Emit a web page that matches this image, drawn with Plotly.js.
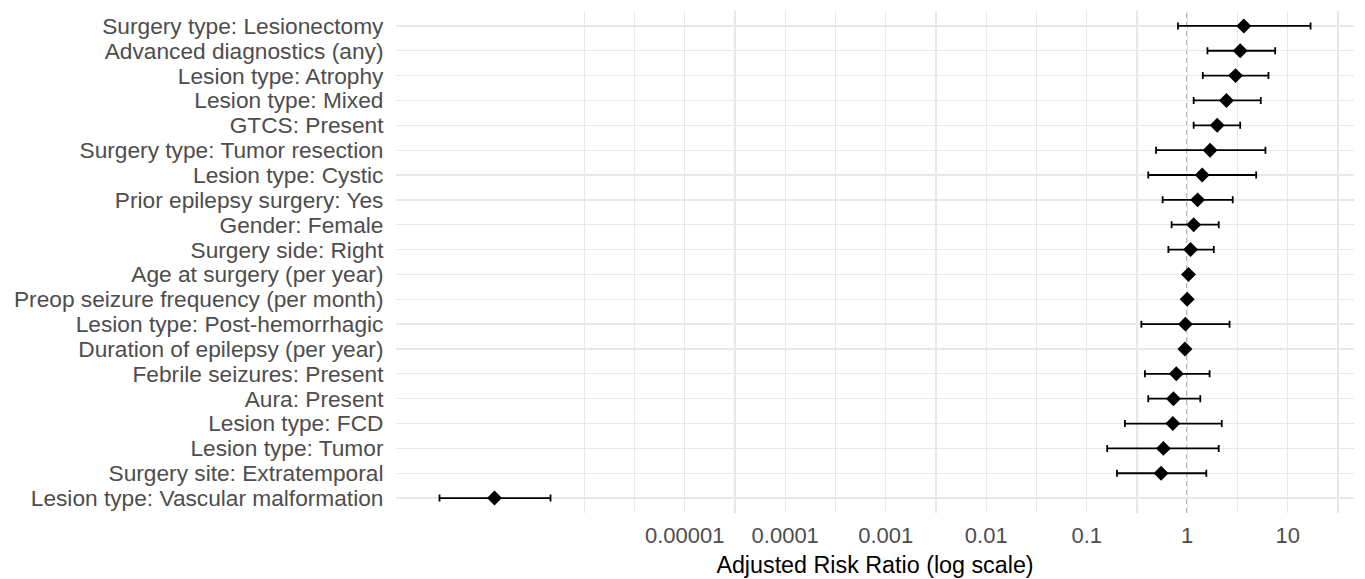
<!DOCTYPE html>
<html>
<head>
<meta charset="utf-8">
<script src="https://cdn.plot.ly/plotly-3.0.1.min.js"></script>
<style>
  html, body { margin: 0; padding: 0; background: #ffffff; }
  #chart { width: 1365px; height: 579px; }
</style>
</head>
<body>
<div id="chart"></div>
<script>
// ---- Data ----
const predictors = [
  "Surgery type: Lesionectomy",
  "Advanced diagnostics (any)",
  "Lesion type: Atrophy",
  "Lesion type: Mixed",
  "GTCS: Present",
  "Surgery type: Tumor resection",
  "Lesion type: Cystic",
  "Prior epilepsy surgery: Yes",
  "Gender: Female",
  "Surgery side: Right",
  "Age at surgery (per year)",
  "Preop seizure frequency (per month)",
  "Lesion type: Post-hemorrhagic",
  "Duration of epilepsy (per year)",
  "Febrile seizures: Present",
  "Aura: Present",
  "Lesion type: FCD",
  "Lesion type: Tumor",
  "Surgery site: Extratemporal",
  "Lesion type: Vascular malformation"
];
const riskRatio = [3.66, 3.37, 3.03, 2.46, 1.99, 1.69, 1.41, 1.27, 1.16, 1.08,
                   1.03, 1.00, 0.96, 0.95, 0.78, 0.73, 0.72, 0.58, 0.55, 1.28e-7];
const ciLower   = [0.81, 1.59, 1.43, 1.16, 1.16, 0.49, 0.41, 0.57, 0.70, 0.65,
                   1.00, 0.99, 0.35, 0.92, 0.38, 0.41, 0.24, 0.16, 0.20, 3.63e-8];
const ciUpper   = [16.9, 7.51, 6.44, 5.40, 3.37, 6.01, 4.86, 2.84, 2.06, 1.84,
                   1.06, 1.01, 2.64, 0.98, 1.67, 1.35, 2.21, 2.06, 1.55, 4.62e-7];

// grid positions (powers of ten, half-decade steps) and their labels
const tickExponents = [-6, -5.5, -5, -4.5, -4, -3.5, -3, -2.5, -2, -1.5, -1, -0.5, 0, 0.5, 1, 1.5];
const tickLabels    = ["", "", "0.00001", "", "0.0001", "", "0.001", "", "0.01", "", "0.1", "", "1", "", "10", ""];

const tickVals = tickExponents.map(e => Math.pow(10, e));
const errPlus  = ciUpper.map((u, i) => u - riskRatio[i]);
const errMinus = riskRatio.map((r, i) => r - ciLower[i]);

const fontFamily = "Liberation Sans, Arial, Helvetica, sans-serif";

const trace = {
  type: "scatter",
  mode: "markers",
  x: riskRatio,
  y: predictors,
  marker: { symbol: "diamond", size: 11.5, color: "#000000", line: { width: 0 } },
  error_x: {
    type: "data",
    symmetric: false,
    array: errPlus,
    arrayminus: errMinus,
    color: "#000000",
    thickness: 1.8,
    width: 3.5
  },
  hoverinfo: "x+y",
  showlegend: false
};

const layout = {
  width: 1365,
  height: 579,
  margin: { l: 396, r: 11, t: 11, b: 66 },
  paper_bgcolor: "#ffffff",
  plot_bgcolor: "#ffffff",
  font: { family: fontFamily, color: "#4d4d4d" },
  showlegend: false,
  xaxis: {
    type: "log",
    range: [-7.873, 1.66],
    tickmode: "array",
    tickvals: tickVals,
    ticktext: tickLabels,
    showgrid: true,
    gridcolor: "#e8e8e8",
    gridwidth: 1.3,
    zeroline: false,
    showline: false,
    ticks: "outside",
    ticklen: 3,
    tickcolor: "rgba(0,0,0,0)",
    tickfont: { size: 22, color: "#4d4d4d", family: fontFamily },
    title: {
      text: "Adjusted Risk Ratio (log scale)",
      font: { size: 23.3, color: "#000000", family: fontFamily },
      standoff: 9
    },
    fixedrange: true
  },
  yaxis: {
    type: "category",
    categoryorder: "array",
    categoryarray: predictors,
    tickmode: "array",
    tickvals: predictors,
    ticktext: predictors,
    range: [predictors.length - 0.4, -0.6],
    showgrid: true,
    gridcolor: "#e8e8e8",
    gridwidth: 1.3,
    zeroline: false,
    showline: false,
    ticks: "outside",
    ticklen: 7,
    tickcolor: "rgba(0,0,0,0)",
    tickfont: { size: 22.7, color: "#4d4d4d", family: fontFamily },
    fixedrange: true
  },
  shapes: [
    {
      type: "line",
      xref: "x",
      yref: "paper",
      x0: 1, x1: 1,
      y0: 0, y1: 1,
      line: { color: "#808080", width: 1.5, dash: "5px,4px" },
      layer: "below"
    }
  ]
};

Plotly.newPlot("chart", [trace], layout, { displayModeBar: false, staticPlot: true });
</script>
</body>
</html>
